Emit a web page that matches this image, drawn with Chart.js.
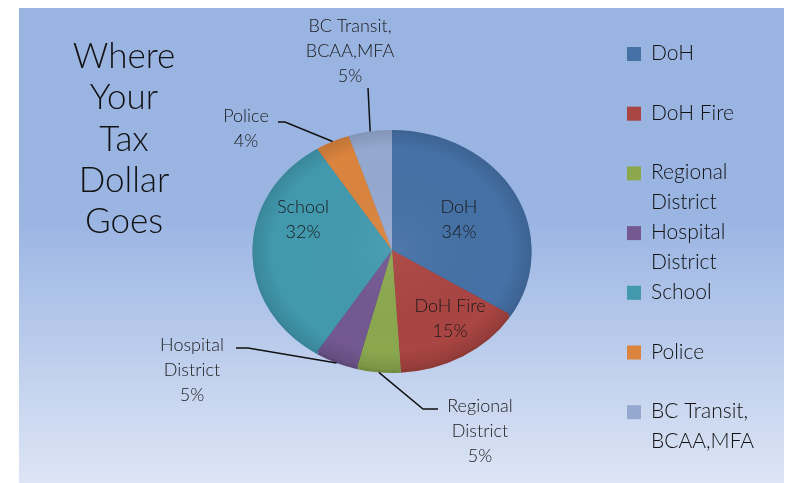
<!DOCTYPE html>
<html>
<head>
<meta charset="utf-8">
<script src="https://cdn.jsdelivr.net/npm/chart.js@4/dist/chart.umd.min.js"></script>
<style>
    html, body { margin: 0; padding: 0; background: #fff; }
    #wrap { width: 787px; height: 483px; }
</style>
</head>
<body>
<div id="wrap"><canvas id="pieChart"></canvas></div>
<script>
// data
const categories = [
    ['DoH'],
    ['DoH Fire'],
    ['Regional', 'District'],
    ['Hospital', 'District'],
    ['School'],
    ['Police'],
    ['BC Transit,', 'BCAA,MFA']
];
const values = [34, 15, 5, 5, 32, 4, 5];
const titleLines = ['Where', 'Your', 'Tax', 'Dollar', 'Goes'];

const colors = ['#4571A6', '#A94542', '#8BA84F', '#735891', '#4299AE', '#DA843E', '#95A9D0'];
const rimColors = ['#3a608f', '#8f3a37', '#738d42', '#5f4979', '#37829a', '#b96f33', '#7d90b3'];

// where the labels sit (text centre x, first baseline) and leader bends
const labelLayout = [
    { x: 459, y: 213 },
    { x: 450, y: 312 },
    { x: 480, y: 412, leader: [[423, 409], [438, 409]] },
    { x: 192, y: 351, leader: [[248, 348], [236, 348]] },
    { x: 303, y: 213 },
    { x: 246, y: 122, leader: [[285, 122], [278, 122]] },
    { x: 350, y: 32, leader: [[368, 88]] }
];

const SQUASH = 0.86;   // pie is seen a little from above
const DEPTH = 3;
const FONT = 'Lato, "Open Sans", sans-serif';

function percent(i) {
    const total = values.reduce((a, b) => a + b, 0);
    return Math.round(values[i] / total * 100) + '%';
}

const piePlugin = {
    id: 'piePlugin',
    beforeDraw(chart) {
        const ctx = chart.ctx;
        ctx.save();
        ctx.fillStyle = '#fff';
        ctx.fillRect(0, 0, chart.width, chart.height);
        const g = ctx.createLinearGradient(0, 8, 0, 483);
        g.addColorStop(0, '#9AB4E2');
        g.addColorStop(0.45, '#9BB5E3');
        g.addColorStop(1, '#DDE5F5');
        ctx.fillStyle = g;
        ctx.fillRect(19, 8, 765, 475);

        // title
        ctx.fillStyle = '#111';
        ctx.font = '300 35px ' + FONT;
        ctx.textAlign = 'center';
        ctx.textBaseline = 'alphabetic';
        titleLines.forEach((t, i) => ctx.fillText(t, 124, 68 + i * 41.3));

        // legend
        ctx.font = '300 21px ' + FONT;
        ctx.textAlign = 'left';
        categories.forEach((lines, i) => {
            const base = 60 + i * 59.7;
            ctx.fillStyle = colors[i];
            ctx.fillRect(627, base - 13, 14, 14);
            ctx.fillStyle = '#111';
            lines.forEach((t, j) => ctx.fillText(t, 651, base + j * 29.5));
        });
        ctx.restore();
    },
    beforeDatasetsDraw(chart) {
        const ctx = chart.ctx;
        const arcs = chart.getDatasetMeta(0).data;
        const cx = arcs[0].x, cy = arcs[0].y;
        // rim underneath
        ctx.save();
        ctx.translate(cx, cy + DEPTH);
        ctx.scale(1, SQUASH);
        ctx.translate(-cx, -cy);
        arcs.forEach((a, i) => {
            ctx.beginPath();
            ctx.moveTo(cx, cy);
            ctx.arc(cx, cy, a.outerRadius, a.startAngle, a.endAngle);
            ctx.closePath();
            ctx.fillStyle = rimColors[i];
            ctx.fill();
        });
        ctx.restore();
        ctx.save();
        ctx.translate(cx, cy);
        ctx.scale(1, SQUASH);
        ctx.translate(-cx, -cy);
    },
    afterDatasetsDraw(chart) {
        const ctx = chart.ctx;
        const arcs = chart.getDatasetMeta(0).data;
        const cx = arcs[0].x, cy = arcs[0].y;
        const R = arcs[0].outerRadius;
        // soft shading over the top face
        const sh = ctx.createRadialGradient(cx, cy, 0, cx, cy, R);
        sh.addColorStop(0, 'rgba(255,255,255,0.05)');
        sh.addColorStop(0.85, 'rgba(0,0,0,0)');
        sh.addColorStop(1, 'rgba(0,0,0,0.12)');
        ctx.beginPath();
        ctx.arc(cx, cy, R, 0, Math.PI * 2);
        ctx.fillStyle = sh;
        ctx.fill();
        ctx.restore();

        // labels and leader lines
        ctx.save();
        ctx.font = '300 18px ' + FONT;
        ctx.textAlign = 'center';
        ctx.textBaseline = 'alphabetic';
        ctx.fillStyle = '#1a1a1a';
        ctx.strokeStyle = '#111';
        ctx.lineWidth = 1.5;
        arcs.forEach((a, i) => {
            const lay = labelLayout[i];
            const lines = categories[i].concat([percent(i)]);
            lines.forEach((t, j) => ctx.fillText(t, lay.x, lay.y + j * 25));
            if (lay.leader) {
                const mid = (a.startAngle + a.endAngle) / 2;
                const px = cx + R * Math.cos(mid);
                const py = cy + R * SQUASH * Math.sin(mid) + (Math.sin(mid) > 0 ? DEPTH : 0);
                ctx.beginPath();
                ctx.moveTo(px, py);
                lay.leader.forEach(p => ctx.lineTo(p[0], p[1]));
                ctx.stroke();
            }
        });
        ctx.restore();
    }
};

document.addEventListener('DOMContentLoaded', function() {
    const ctx = document.getElementById('pieChart');
    new Chart(ctx, {
        type: 'pie',
        data: {
            labels: categories,
            datasets: [{
                data: values,
                backgroundColor: colors,
                borderWidth: 0
            }]
        },
        options: {
            responsive: true,
            maintainAspectRatio: false,
            animation: false,
            layout: {
                padding: { left: 252.5, right: 255.5, top: 110.5, bottom: 93.5 }
            },
            plugins: {
                legend: { display: false },
                tooltip: { enabled: false }
            }
        },
        plugins: [piePlugin]
    });
});
</script>
</body>
</html>
